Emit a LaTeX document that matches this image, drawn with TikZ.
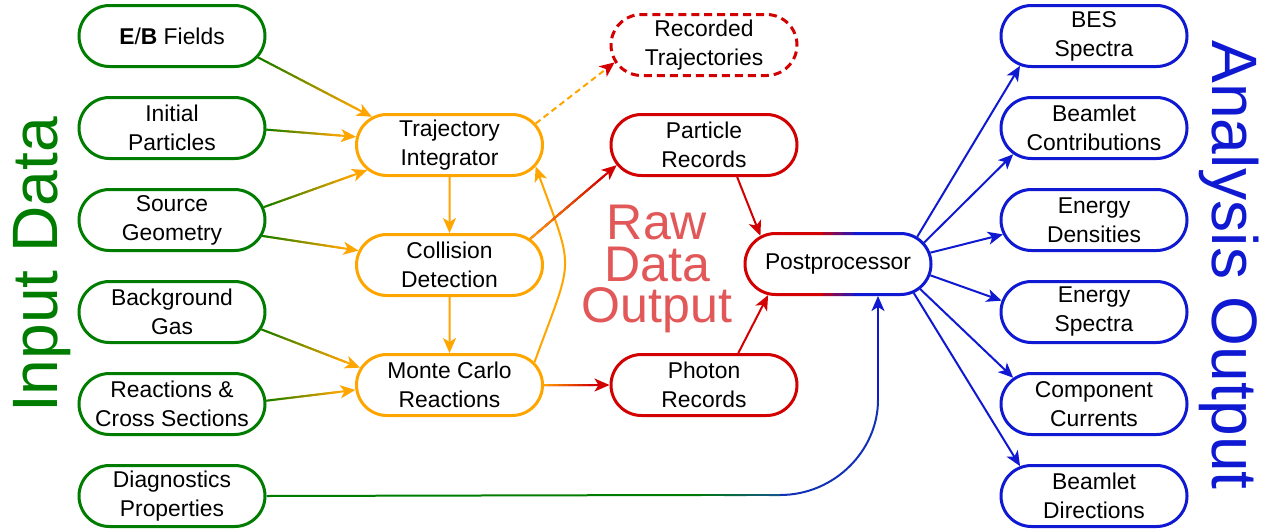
\documentclass[tikz,border=0pt]{standalone}
\usepackage{fontspec}
\setmainfont{Liberation Sans}
\usetikzlibrary{arrows.meta,calc,shapes.misc,positioning}

\definecolor{ngreen}{RGB}{0,125,0}
\definecolor{norange}{RGB}{255,165,0}
\definecolor{nred}{RGB}{210,0,0}
\definecolor{nblue}{RGB}{15,25,210}
\definecolor{nteal}{RGB}{20,85,140}
\definecolor{rawred}{RGB}{226,88,88}

% arrow whose colour runs from #3 to #4
\newcommand{\fadelink}[4]{%
  \path (#1) -- (#2) coordinate[pos=0] (fa) coordinate[pos=1] (fb);
  \draw[link, #4] (fa) -- (fb);
  \coordinate (fc) at ($(fb)!0.32cm!(fa)$);
  \foreach \k in {0,...,9}{
    \pgfmathtruncatemacro{\pc}{\k*10+5}
    \draw[line width=0.04cm, line cap=round, #4!\pc!#3] ($(fa)!\k/10!(fc)$) -- ($(fa)!\k/10+0.1!(fc)$);
  }
}

\begin{document}
\begin{tikzpicture}[node distance=1.84cm,
    box/.style={rounded rectangle, minimum width=2.92cm, minimum height=1.22cm, inner xsep=-0.4cm, inner ysep=2pt, line width=0.06cm, align=center, font=\fontsize{13}{16.5}\selectfont},
    inbox/.style={box, draw=ngreen},
    stepbox/.style={box, draw=norange},
    rawbox/.style={box, draw=nred},
    outbox/.style={box, draw=nblue},
    link/.style={line width=0.04cm, -{Stealth[length=0.3cm, width=0.26cm, inset=0.08cm]}},
    title/.style={font=\fontsize{36.5}{40}\selectfont, inner sep=0pt, anchor=base}]
  \useasboundingbox (0,0) rectangle (25.4,-10.62);

  % input data
  \node (eb) [inbox] at (3.44,-0.72) {\textbf{E}/\textbf{B} Fields};
  \node (ip) [inbox, below of=eb] {Initial\\Particles};
  \node (sg) [inbox, below of=ip] {Source\\Geometry};
  \node (bg) [inbox, below of=sg] {Background\\Gas};
  \node (rc) [inbox, below of=bg] {Reactions \&\\Cross Sections};
  \node (dp) [inbox, below of=rc] {Diagnostics\\Properties};

  % simulation
  \node (ti) [stepbox] at (8.99,-2.90) {Trajectory\\Integrator};
  \node (cd) [stepbox, below of=ti, node distance=2.4cm] {Collision\\Detection};
  \node (mc) [stepbox, below of=cd, node distance=2.4cm] {Monte Carlo\\Reactions};

  % raw data
  \node (pr) [rawbox] at (14.08,-2.90) {Particle\\Records};
  \node (rt) [rawbox, dash pattern=on 0.16cm off 0.1cm, above of=pr, node distance=2cm] {Recorded\\Trajectories};
  \node (phr) [rawbox, below of=pr, node distance=4.8cm] {Photon\\Records};
  \node (post) [box] at (16.76,-5.28) {Postprocessor};
  \foreach \xa/\xb/\pc in {-2/-0.3/100, -0.3/-0.1/75, -0.1/0.1/50, 0.1/0.3/25, 0.3/2/0}{
    \begin{scope}
      \clip ([xshift=\xa cm, yshift=1cm]post.center) rectangle ([xshift=\xb cm, yshift=-1cm]post.center);
      \node (postrim) [box, draw=nred!\pc!nblue] at (post) {\phantom{Postprocessor}};
    \end{scope}
  }

  % analysis
  \node (bes) [outbox] at (21.88,-0.72) {BES\\Spectra};
  \node (bc) [outbox, below of=bes] {Beamlet\\Contributions};
  \node (ed) [outbox, below of=bc] {Energy\\Densities};
  \node (es) [outbox, below of=ed] {Energy\\Spectra};
  \node (cc) [outbox, below of=es] {Component\\Currents};
  \node (bd) [outbox, below of=cc] {Beamlet\\Directions};

  % titles
  \node (indata) [title, text=ngreen, rotate=90] at (1.14,-5.30) {Input Data};
  \node (outdata) [title, text=nblue, rotate=-90] at (24.24,-5.30) {Analysis Output};
  \node (raw) [text=rawred, align=center, inner sep=0pt, font=\fontsize{28.5}{23.5}\selectfont] at (13.14,-5.38) {Raw\\Data\\Output};

  % connectors
  \fadelink{eb.-14}{ti.160}{ngreen}{norange}
  \fadelink{ip.-1}{ti.175}{ngreen}{norange}
  \fadelink{sg.8}{ti.197}{ngreen}{norange}
  \fadelink{sg.-10}{cd.171}{ngreen}{norange}
  \fadelink{bg.-11}{mc.169}{ngreen}{norange}
  \fadelink{rc.2}{mc.183}{ngreen}{norange}
  \draw[link, norange] (ti) -- (cd);
  \draw[link, norange] (cd) -- (mc);
  \draw[link, norange] (mc.15) to[out=70, in=-70, looseness=1.5] (ti.-14);
  \draw[line width=0.04cm, norange, dash pattern=on 0.12cm off 0.08cm, -{Stealth[length=0.3cm, width=0.26cm, inset=0.08cm, color=nred]}] (ti.14) -- (rt.191);
  \fadelink{cd.18}{pr.193}{norange}{nred}
  \fadelink{mc}{phr}{norange}{nred}
  \draw[link, nred] (pr.-44) -- (post.160);
  \draw[link, nred] (phr.43) -- (post.204);
  \foreach \n/\a/\b in {bes/19/202, bc/14/198, ed/7/189, es/-7/173, cc/-17/162, bd/-21/158}
    \draw[link, nblue] (post.\a) -- (\n.\b);

  % diagnostics to postprocessor
  \coordinate (dga) at (13.8,-9.90);
  \coordinate (dgb) at (15.6,-9.90);
  \coordinate (dgc) at (17.56,-8.0);
  \draw[line width=0.04cm, ngreen] (dp.east) -- (dga);
  \foreach \k in {0,...,7}{
    \pgfmathtruncatemacro{\pc}{\k*12.5+6}
    \draw[line width=0.04cm, line cap=round, nteal!\pc!ngreen] ($(dga)!\k/8!(dgb)$) -- ($(dga)!\k/8+0.125!(dgb)$);
  }
  \draw[line width=0.04cm, nteal!40!nblue] (dgb) .. controls (16.7,-9.90) and (17.56,-9.0) .. (dgc);
  \draw[link, nblue] (dgc) -- ([xshift=0.8cm]post.south);
\end{tikzpicture}
\end{document}
